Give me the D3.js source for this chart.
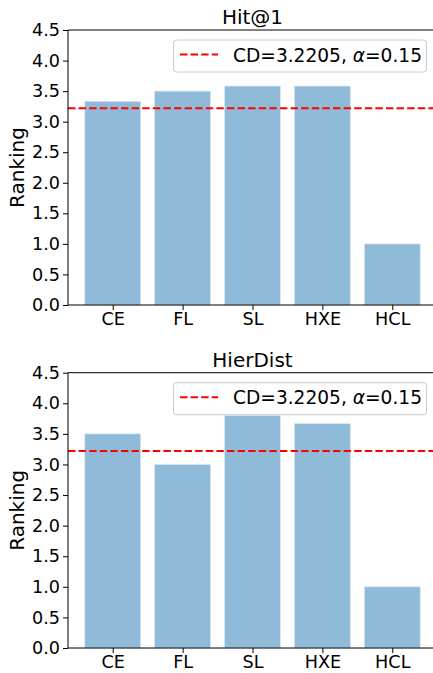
<!DOCTYPE html>
<html><head><meta charset="utf-8">
<script src="https://cdn.jsdelivr.net/npm/d3@7"></script>
<style>body{margin:0;background:#fff}svg{display:block}text{font-family:"DejaVu Sans",sans-serif;fill:#000}</style>
</head><body>
<script>
const categories = ["CE","FL","SL","HXE","HCL"];
const hitValues = [3.333, 3.5, 3.583, 3.583, 1.0];
const hierValues = [3.5, 3.0, 3.8, 3.667, 1.0];
const titles = ["Hit@1","HierDist"];
const yTicks = [0,0.5,1,1.5,2,2.5,3,3.5,4,4.5];
const cdValue = 3.2205;
const legendLabel = "CD=3.2205, ";

const W=433,H=673;
const svg=d3.select("body").append("svg").attr("width",W).attr("height",H);

const panels=[{title:titles[0],vals:hitValues,top:30,bottom:305},
              {title:titles[1],vals:hierValues,top:372.7,bottom:648}];
const left=68, right=437;

panels.forEach(p=>{
  const g=svg.append("g");
  const x=d3.scaleLinear().domain([-0.64,4.64]).range([left,right]);
  const y=d3.scaleLinear().domain([0,4.5]).range([p.bottom,p.top]);
  g.selectAll("rect").data(p.vals).enter().append("rect")
    .attr("x",(d,i)=>x(i-0.4)).attr("width",x(0.8)-x(0))
    .attr("y",d=>y(d)).attr("height",d=>y(0)-y(d))
    .attr("fill","#8fbbd9").attr("stroke","#d6e6f1").attr("stroke-width",0.8);
  g.append("line").attr("x1",left).attr("x2",right).attr("y1",y(cdValue)).attr("y2",y(cdValue))
    .attr("stroke","#ff0000").attr("stroke-width",2).attr("stroke-dasharray","7.4,3.2");
  const ya=d3.axisLeft(y).tickValues(yTicks).tickFormat(d3.format(".1f")).tickSize(5).tickPadding(3);
  const yg=g.append("g").attr("transform",`translate(${left},0)`).call(ya);
  const xa=d3.axisBottom(x).tickValues(d3.range(categories.length)).tickFormat(i=>categories[i]).tickSize(5).tickPadding(3);
  const xg=g.append("g").attr("transform",`translate(0,${p.bottom})`).call(xa);
  [yg,xg].forEach(a=>{a.selectAll("text").style("font-size","17.6px").style("font-family","DejaVu Sans");
    a.selectAll("line,path").attr("stroke","#000").attr("stroke-width",1);});
  xg.select(".domain").attr("d",`M${left},0H${right}`);
  yg.select(".domain").attr("d",`M0,${p.bottom}V${p.top}`);
  g.append("line").attr("x1",left).attr("x2",right).attr("y1",p.top).attr("y2",p.top).attr("stroke","#000").attr("stroke-width",1);
  g.append("text").attr("x",(left+right)/2).attr("y",p.top-6).attr("text-anchor","middle").style("font-size","20px").text(p.title);
  g.append("text").attr("transform",`translate(24,${(p.top+p.bottom)/2}) rotate(-90)`).attr("text-anchor","middle").style("font-size","20px").text("Ranking");
  const ly=p.top+10;
  g.append("rect").attr("x",173.5).attr("y",ly).attr("width",253).attr("height",32).attr("rx",3)
    .attr("fill","#fff").attr("fill-opacity",0.8).attr("stroke","#ccc").attr("stroke-width",1);
  g.append("line").attr("x1",180).attr("x2",218).attr("y1",ly+14.5).attr("y2",ly+14.5)
    .attr("stroke","#ff0000").attr("stroke-width",2).attr("stroke-dasharray","7.4,3.2");
  const t=g.append("text").attr("x",233).attr("y",ly+21.5).style("font-size","18.6px");
  t.append("tspan").text(legendLabel);
  t.append("tspan").style("font-style","italic").text("α");
  t.append("tspan").text("=0.15");
});
</script>
</body></html>
